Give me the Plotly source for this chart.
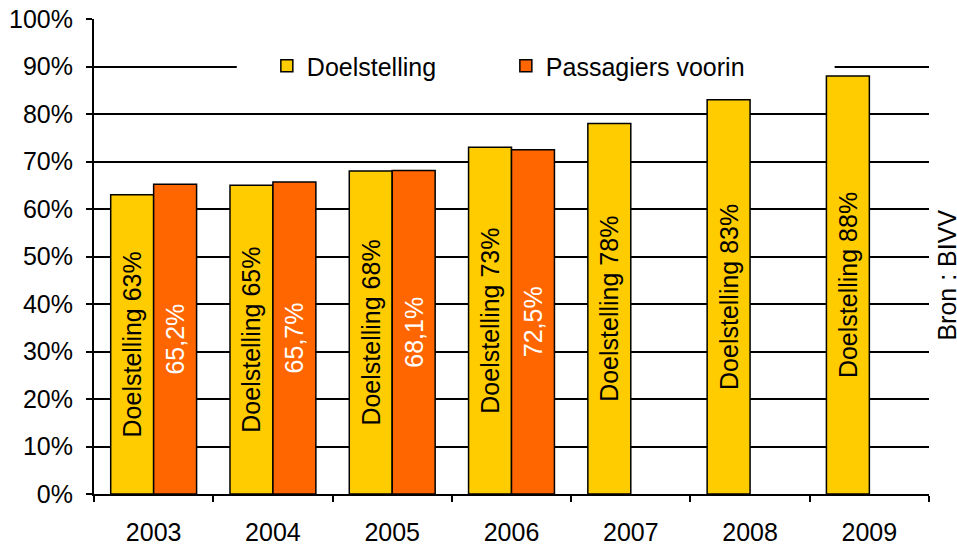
import plotly.graph_objects as go

years = ["2003", "2004", "2005", "2006", "2007", "2008", "2009"]
doel = [63, 65, 68, 73, 78, 83, 88]
doel_text = ["Doelstelling 63%", "Doelstelling 65%", "Doelstelling 68%", "Doelstelling 73%",
             "Doelstelling 78%", "Doelstelling 83%", "Doelstelling 88%"]
pass_vals = [65.2, 65.7, 68.1, 72.5, None, None, None]
pass_text = ["65,2%", "65,7%", "68,1%", "72,5%", "", "", ""]

FONT = "Liberation Sans, Arial, sans-serif"
FS = 25

fig = go.Figure()
fig.add_trace(go.Bar(
    x=years, y=doel, name="Doelstelling", text=doel_text,
    marker=dict(color="#FFCC00", line=dict(color="black", width=1.5)),
    textposition="inside", insidetextanchor="middle", textangle=-90,
    constraintext="none",
    insidetextfont=dict(family=FONT, size=FS, color="black"),
))
fig.add_trace(go.Bar(
    x=years, y=pass_vals, name="Passagiers voorin", text=pass_text,
    marker=dict(color="#FF6600", line=dict(color="black", width=1.5)),
    textposition="inside", insidetextanchor="middle", textangle=-90,
    constraintext="none",
    insidetextfont=dict(family=FONT, size=FS, color="white"),
))

fig.update_layout(
    width=957, height=546,
    margin=dict(l=94, r=28, t=19, b=52, autoexpand=False),
    paper_bgcolor="white", plot_bgcolor="white",
    font=dict(family=FONT, size=FS, color="black"),
    barmode="group", bargap=0.28, bargroupgap=0,
    showlegend=True,
    legend=dict(orientation="h", x=0.207, y=0.901, xanchor="left", yanchor="middle",
                bgcolor="rgba(0,0,0,0)", font=dict(family=FONT, size=FS, color="black"),
                entrywidth=194, entrywidthmode="pixels", traceorder="normal"),
    shapes=[dict(type="rect", xref="paper", yref="y", x0=0.171, x1=0.887, y0=88.7, y1=95,
                 fillcolor="white", line=dict(width=0), layer="above")],
    annotations=[dict(text="Bron : BIVV", xref="paper", yref="paper", x=1.021, y=0.461,
                      textangle=-90, showarrow=False, xanchor="center", yanchor="middle",
                      font=dict(family=FONT, size=FS, color="black"))],
)
fig.update_yaxes(range=[0, 100], dtick=10, ticksuffix="%", showgrid=True,
                 gridcolor="black", gridwidth=1.5, showline=True, linecolor="black",
                 linewidth=2, ticks="outside", ticklen=6, tickwidth=2, tickcolor="black",
                 zeroline=False, automargin=False, ticklabelstandoff=8)
fig.update_xaxes(type="category", showline=True, linecolor="black", linewidth=2,
                 ticks="outside", tickson="boundaries", ticklen=6, tickwidth=2,
                 tickcolor="black", showgrid=False, automargin=False, ticklabelstandoff=15)

fig.write_html("out.html", config={"displayModeBar": False},
               post_script="document.body.style.margin='0';document.body.style.overflow='hidden';")
